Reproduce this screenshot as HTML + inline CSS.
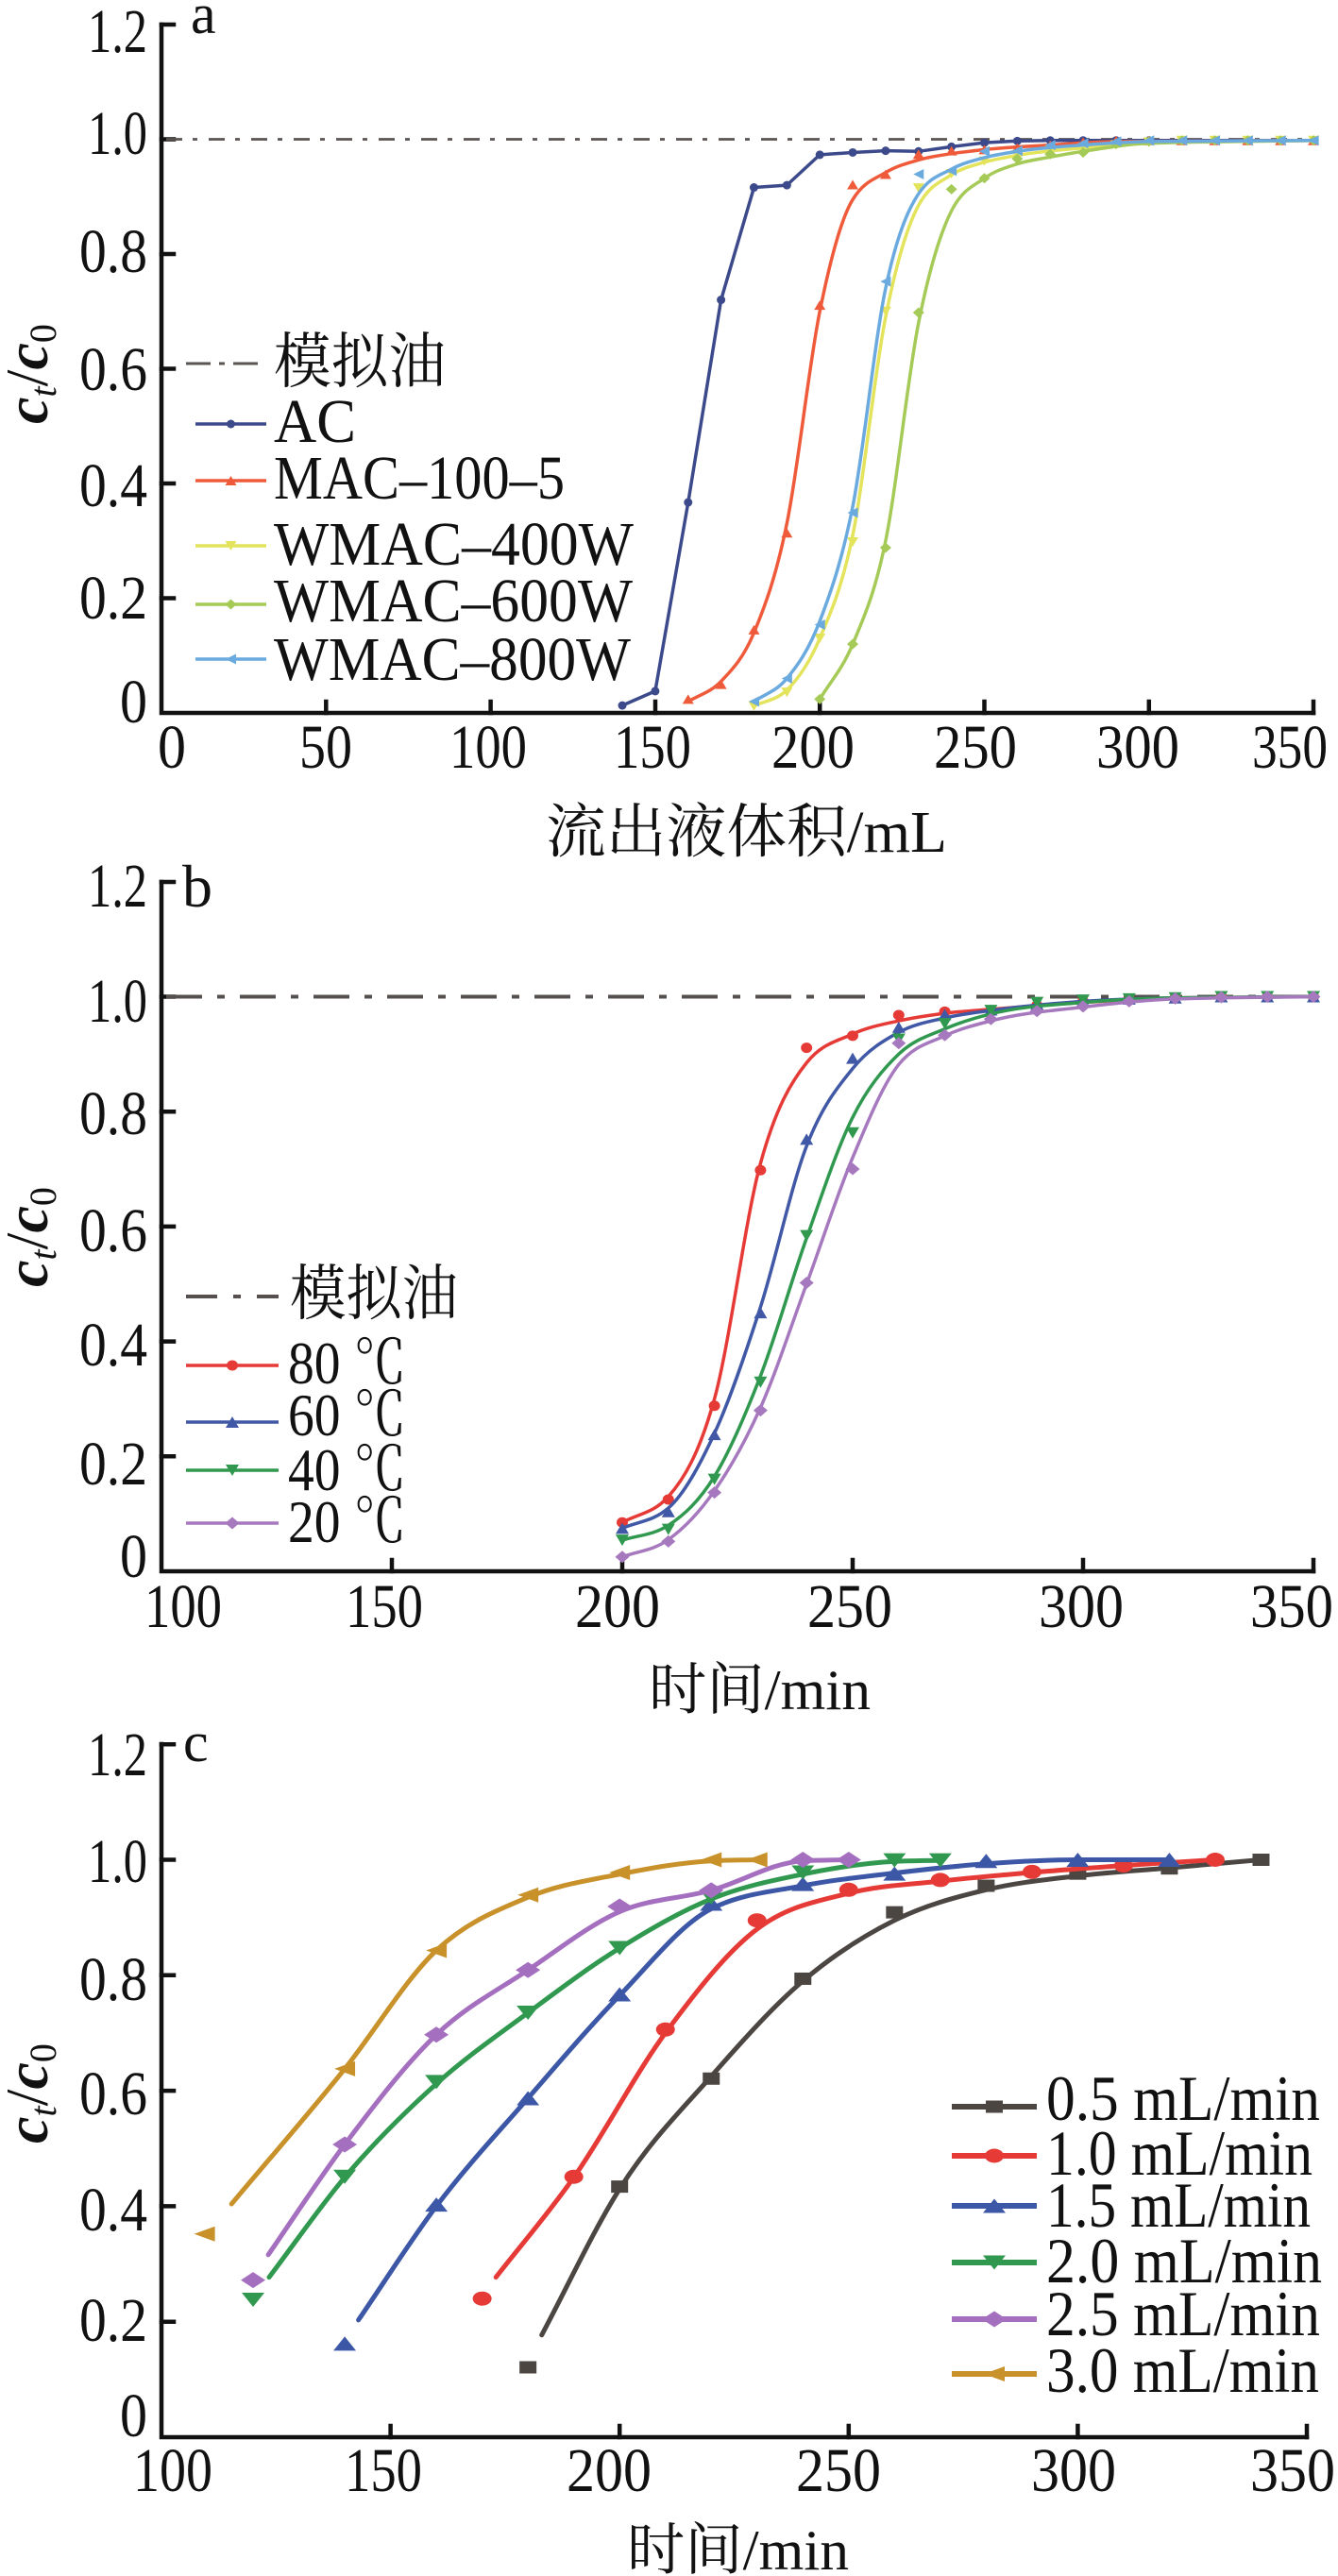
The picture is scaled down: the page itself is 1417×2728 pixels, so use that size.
<!DOCTYPE html>
<html>
<head>
<meta charset="utf-8">
<style>
html,body{margin:0;padding:0;background:#fff;}
svg{display:block;}
text{font-family:"Liberation Serif","Noto Serif CJK SC",serif;fill:#111;}
.cjk{font-family:"Liberation Serif","Noto Serif CJK SC",serif;}
</style>
</head>
<body>
<svg id="chart" xmlns="http://www.w3.org/2000/svg" width="1417" height="2728" viewBox="0 0 1417 2728">
<rect x="0" y="0" width="1417" height="2728" fill="#fff"/>

<!-- ================= PANEL A ================= -->
<g stroke="#111" stroke-width="4.5" fill="none" stroke-linecap="square">
  <path d="M171 26 V755 H1391"/>
  <path d="M171 26H184 M171 147.5H184 M171 269H184 M171 390.5H184 M171 512H184 M171 633.5H184"/>
  <path d="M345.3 755V743 M519.6 755V743 M694 755V743 M868.2 755V743 M1042.5 755V743 M1216.8 755V743 M1391 755V743"/>
</g>
<line x1="176" y1="147.5" x2="1391" y2="147.5" stroke="#5a5452" stroke-width="2.8" stroke-dasharray="17 11 5 12"/>
<g font-size="66" text-anchor="end">
  <text x="156" y="55" textLength="63" lengthAdjust="spacingAndGlyphs">1.2</text>
  <text x="156" y="163" textLength="63" lengthAdjust="spacingAndGlyphs">1.0</text>
  <text x="156" y="288" textLength="72" lengthAdjust="spacingAndGlyphs">0.8</text>
  <text x="156" y="413" textLength="72" lengthAdjust="spacingAndGlyphs">0.6</text>
  <text x="156" y="536" textLength="72" lengthAdjust="spacingAndGlyphs">0.4</text>
  <text x="156" y="655" textLength="72" lengthAdjust="spacingAndGlyphs">0.2</text>
  <text x="156" y="765" textLength="29" lengthAdjust="spacingAndGlyphs">0</text>
</g>
<g font-size="66" text-anchor="middle">
  <text x="182" y="813" textLength="30" lengthAdjust="spacingAndGlyphs">0</text>
  <text x="345" y="813" textLength="56" lengthAdjust="spacingAndGlyphs">50</text>
  <text x="517" y="813" textLength="82" lengthAdjust="spacingAndGlyphs">100</text>
  <text x="691" y="813" textLength="82" lengthAdjust="spacingAndGlyphs">150</text>
  <text x="861" y="813" textLength="88" lengthAdjust="spacingAndGlyphs">200</text>
  <text x="1033" y="813" textLength="88" lengthAdjust="spacingAndGlyphs">250</text>
  <text x="1205" y="813" textLength="88" lengthAdjust="spacingAndGlyphs">300</text>
  <text x="1366" y="813" textLength="80" lengthAdjust="spacingAndGlyphs">350</text>
</g>
<text class="cjk" x="578" y="902" font-size="62" textLength="425" lengthAdjust="spacingAndGlyphs">流出液体积/mL</text>
<text x="202" y="35" font-size="60">a</text>
<text transform="translate(50,396) rotate(-90)" font-size="64" text-anchor="middle"><tspan font-style="italic" font-weight="bold">c</tspan><tspan font-style="italic" font-size="40" dy="9">t</tspan><tspan dy="-9">/</tspan><tspan font-style="italic" font-weight="bold">c</tspan><tspan font-size="40" dy="9">0</tspan></text>
<!-- legend a -->
<line x1="197" y1="385" x2="277" y2="385" stroke="#5a5452" stroke-width="3" stroke-dasharray="26 9 6 9"/>
<text class="cjk" x="290" y="405" font-size="64" textLength="182" lengthAdjust="spacingAndGlyphs">模拟油</text>
<g font-size="66">
  <text x="290" y="468" textLength="87" lengthAdjust="spacingAndGlyphs">AC</text>
  <text x="290" y="528" textLength="308" lengthAdjust="spacingAndGlyphs">MAC–100–5</text>
  <text x="290" y="598" textLength="381" lengthAdjust="spacingAndGlyphs">WMAC–400W</text>
  <text x="290" y="658" textLength="380" lengthAdjust="spacingAndGlyphs">WMAC–600W</text>
  <text x="290" y="720" textLength="378" lengthAdjust="spacingAndGlyphs">WMAC–800W</text>
</g>

<!-- ================= PANEL B ================= -->
<g stroke="#111" stroke-width="4.5" fill="none" stroke-linecap="square">
  <path d="M171 934 V1664 H1391"/>
  <path d="M171 934H184 M171 1055.5H184 M171 1177.2H184 M171 1298.9H184 M171 1420.6H184 M171 1542.3H184"/>
  <path d="M415 1664V1652 M659 1664V1652 M903 1664V1652 M1147 1664V1652 M1391 1664V1652"/>
</g>
<line x1="176" y1="1055.5" x2="1391" y2="1055.5" stroke="#55504d" stroke-width="4" stroke-dasharray="38 16 8 16"/>
<g font-size="66" text-anchor="end">
  <text x="156" y="960" textLength="63" lengthAdjust="spacingAndGlyphs">1.2</text>
  <text x="156" y="1082" textLength="63" lengthAdjust="spacingAndGlyphs">1.0</text>
  <text x="156" y="1201" textLength="72" lengthAdjust="spacingAndGlyphs">0.8</text>
  <text x="156" y="1325" textLength="72" lengthAdjust="spacingAndGlyphs">0.6</text>
  <text x="156" y="1446" textLength="72" lengthAdjust="spacingAndGlyphs">0.4</text>
  <text x="156" y="1572" textLength="72" lengthAdjust="spacingAndGlyphs">0.2</text>
  <text x="156" y="1670" textLength="29" lengthAdjust="spacingAndGlyphs">0</text>
</g>
<g font-size="66" text-anchor="middle">
  <text x="194" y="1723" textLength="82" lengthAdjust="spacingAndGlyphs">100</text>
  <text x="407" y="1723" textLength="82" lengthAdjust="spacingAndGlyphs">150</text>
  <text x="654" y="1723" textLength="90" lengthAdjust="spacingAndGlyphs">200</text>
  <text x="900" y="1723" textLength="90" lengthAdjust="spacingAndGlyphs">250</text>
  <text x="1145" y="1723" textLength="90" lengthAdjust="spacingAndGlyphs">300</text>
  <text x="1368" y="1723" textLength="88" lengthAdjust="spacingAndGlyphs">350</text>
</g>
<text class="cjk" x="687" y="1810" font-size="60" textLength="235" lengthAdjust="spacingAndGlyphs">时间/min</text>
<text x="193" y="960" font-size="64">b</text>
<text transform="translate(50,1310) rotate(-90)" font-size="64" text-anchor="middle"><tspan font-style="italic" font-weight="bold">c</tspan><tspan font-style="italic" font-size="40" dy="9">t</tspan><tspan dy="-9">/</tspan><tspan font-style="italic" font-weight="bold">c</tspan><tspan font-size="40" dy="9">0</tspan></text>
<!-- legend b -->
<line x1="197" y1="1373" x2="295" y2="1373" stroke="#55504d" stroke-width="4" stroke-dasharray="33 17 8 17"/>
<text class="cjk" x="307" y="1392" font-size="64" textLength="178" lengthAdjust="spacingAndGlyphs">模拟油</text>
<g font-size="64">
  <text x="305" y="1465" textLength="125" lengthAdjust="spacingAndGlyphs">80 ℃</text>
  <text x="305" y="1520" textLength="125" lengthAdjust="spacingAndGlyphs">60 ℃</text>
  <text x="305" y="1578" textLength="125" lengthAdjust="spacingAndGlyphs">40 ℃</text>
  <text x="305" y="1633" textLength="125" lengthAdjust="spacingAndGlyphs">20 ℃</text>
</g>

<!-- ================= PANEL C ================= -->
<g stroke="#111" stroke-width="4.5" fill="none" stroke-linecap="square">
  <path d="M171 1847 V2581 H1384"/>
  <path d="M171 1847.2H184 M171 1969.5H184 M171 2091.8H184 M171 2214.1H184 M171 2336.4H184 M171 2458.7H184"/>
  <path d="M413.6 2581V2569 M656.2 2581V2569 M898.8 2581V2569 M1141.4 2581V2569 M1384 2581V2569"/>
</g>
<g font-size="66" text-anchor="end">
  <text x="156" y="1880" textLength="63" lengthAdjust="spacingAndGlyphs">1.2</text>
  <text x="156" y="1993" textLength="63" lengthAdjust="spacingAndGlyphs">1.0</text>
  <text x="156" y="2118" textLength="72" lengthAdjust="spacingAndGlyphs">0.8</text>
  <text x="156" y="2239" textLength="72" lengthAdjust="spacingAndGlyphs">0.6</text>
  <text x="156" y="2362" textLength="72" lengthAdjust="spacingAndGlyphs">0.4</text>
  <text x="156" y="2479" textLength="72" lengthAdjust="spacingAndGlyphs">0.2</text>
  <text x="156" y="2580" textLength="29" lengthAdjust="spacingAndGlyphs">0</text>
</g>
<g font-size="66" text-anchor="middle">
  <text x="183" y="2638" textLength="84" lengthAdjust="spacingAndGlyphs">100</text>
  <text x="406" y="2638" textLength="82" lengthAdjust="spacingAndGlyphs">150</text>
  <text x="645" y="2638" textLength="90" lengthAdjust="spacingAndGlyphs">200</text>
  <text x="888" y="2638" textLength="90" lengthAdjust="spacingAndGlyphs">250</text>
  <text x="1137" y="2638" textLength="90" lengthAdjust="spacingAndGlyphs">300</text>
  <text x="1369" y="2638" textLength="90" lengthAdjust="spacingAndGlyphs">350</text>
</g>
<text class="cjk" x="664" y="2721" font-size="60" textLength="235" lengthAdjust="spacingAndGlyphs">时间/min</text>
<text x="194" y="1865" font-size="60">c</text>
<text transform="translate(50,2217) rotate(-90)" font-size="64" text-anchor="middle"><tspan font-style="italic" font-weight="bold">c</tspan><tspan font-style="italic" font-size="40" dy="9">t</tspan><tspan dy="-9">/</tspan><tspan font-style="italic" font-weight="bold">c</tspan><tspan font-size="40" dy="9">0</tspan></text>
<!-- legend c text -->
<g font-size="68">
  <text x="1108" y="2245" textLength="290" lengthAdjust="spacingAndGlyphs">0.5 mL/min</text>
  <text x="1108" y="2303" textLength="282" lengthAdjust="spacingAndGlyphs">1.0 mL/min</text>
  <text x="1108" y="2358" textLength="280" lengthAdjust="spacingAndGlyphs">1.5 mL/min</text>
  <text x="1108" y="2417" textLength="292" lengthAdjust="spacingAndGlyphs">2.0 mL/min</text>
  <text x="1108" y="2473" textLength="290" lengthAdjust="spacingAndGlyphs">2.5 mL/min</text>
  <text x="1108" y="2533" textLength="289" lengthAdjust="spacingAndGlyphs">3.0 mL/min</text>
</g>
<g id="series"></g>
</svg>

<script>
(function(){
var NS='http://www.w3.org/2000/svg';
var root=document.getElementById('series');
function el(tag,attrs,parent){var e=document.createElementNS(NS,tag);for(var k in attrs)e.setAttribute(k,attrs[k]);(parent||root).appendChild(e);return e;}
function f(v){return v.toFixed(1);}
function linear(p){var d='M'+f(p[0][0])+','+f(p[0][1]);for(var i=1;i<p.length;i++)d+='L'+f(p[i][0])+','+f(p[i][1]);return d;}
function mono(p){
  var n=p.length;if(n<3)return linear(p);
  var h=[],s=[],t=[];
  for(var i=0;i<n-1;i++){h[i]=p[i+1][0]-p[i][0];s[i]=(p[i+1][1]-p[i][1])/h[i];}
  for(var i=1;i<n-1;i++){
    var s0=s[i-1],s1=s[i],h0=h[i-1],h1=h[i];
    var q=(s0*h1+s1*h0)/(h0+h1);
    var v=(Math.sign(s0)+Math.sign(s1))*Math.min(Math.abs(s0),Math.abs(s1),0.5*Math.abs(q));
    t[i]=isFinite(v)?v:0;
  }
  t[0]=s[0];t[n-1]=s[n-2];
  var d='M'+f(p[0][0])+','+f(p[0][1]);
  for(var i=0;i<n-1;i++){
    var dx=h[i]/3;
    d+='C'+f(p[i][0]+dx)+','+f(p[i][1]+t[i]*dx)+' '+f(p[i+1][0]-dx)+','+f(p[i+1][1]-t[i+1]*dx)+' '+f(p[i+1][0])+','+f(p[i+1][1]);
  }
  return d;
}
function marker(type,x,y,w,h,c,g){
  var a=w/2,b=h/2;
  if(type==='o')el('ellipse',{cx:x,cy:y,rx:a,ry:b,fill:c},g);
  else if(type==='s')el('rect',{x:x-a,y:y-b,width:w,height:h,fill:c},g);
  else if(type==='^')el('polygon',{points:x+','+(y-b)+' '+(x+a)+','+(y+b)+' '+(x-a)+','+(y+b),fill:c},g);
  else if(type==='v')el('polygon',{points:x+','+(y+b)+' '+(x+a)+','+(y-b)+' '+(x-a)+','+(y-b),fill:c},g);
  else if(type==='<')el('polygon',{points:(x-a)+','+y+' '+(x+a)+','+(y-b)+' '+(x+a)+','+(y+b),fill:c},g);
  else if(type==='d')el('polygon',{points:x+','+(y-b)+' '+(x+a)+','+y+' '+x+','+(y+b)+' '+(x-a)+','+y,fill:c},g);
}
var sz={
  a:{o:[9,9],'^':[12,10],'v':[12,10],'d':[12,11],'<':[11,11],s:[10,10]},
  b:{o:[12,11],'^':[14,12],'v':[14,12],'d':[15,13],'<':[13,13],s:[12,12]},
  c:{o:[20,15],'^':[24,15],'v':[24,15],'d':[26,17],'<':[22,16],s:[18,13]}
};
function draw(panel,fx,fy,curve,pts,color,type,lw,lin){
  var g=el('g',{});
  var cp=curve.map(function(q){return [fx(q[0]),fy(q[1])];});
  el('path',{d:lin?linear(cp):mono(cp),fill:'none',stroke:color,'stroke-width':lw,'stroke-linejoin':'round','stroke-linecap':'round'},g);
  var m=sz[panel][type];
  pts.forEach(function(q){marker(type,fx(q[0]),fy(q[1]),m[0],m[1],color,g);});
}
function legend(panel,x1,x2,y,color,type,lw){
  var g=el('g',{});
  el('line',{x1:x1,y1:y,x2:x2,y2:y,stroke:color,'stroke-width':lw},g);
  var m=sz[panel][type];
  marker(type,(x1+x2)/2,y,m[0],m[1],color,g);
}
/* ---------- Panel A ---------- */
var ax=function(x){return 171+x*3.486;}, ay=function(y){return 755-y*607.5;};
function tail(arr,from,v){for(var x=from;x<=350;x+=10)arr.push([x,v]);return arr;}
var AC=tail([[140,0.013],[150,0.038],[160,0.367],[170,0.72],[180,0.916],[190,0.92],[200,0.973],[210,0.977],[220,0.98],[230,0.979],[240,0.987],[250,0.994],[260,0.997]],270,0.998);
var MAC=tail([[160,0.024],[170,0.05],[180,0.145],[190,0.314],[200,0.711],[210,0.921],[220,0.939],[230,0.974],[240,0.98],[250,0.982],[260,0.985],[270,0.99],[280,0.995]],290,0.998);
var W4=tail([[180,0.012],[190,0.036],[200,0.13],[210,0.298],[220,0.70],[230,0.915],[240,0.94],[250,0.962],[260,0.973],[270,0.98],[280,0.985],[290,0.99],[300,0.995]],310,0.998);
var W6=tail([[200,0.024],[210,0.12],[220,0.288],[230,0.698],[240,0.913],[250,0.932],[260,0.966],[270,0.974],[280,0.977],[290,0.992],[300,0.996]],310,0.998);
var W8=tail([[180,0.02],[190,0.06],[200,0.154],[210,0.349],[220,0.752],[230,0.939],[240,0.945],[250,0.979],[260,0.98],[270,0.99],[280,0.993],[290,0.996]],300,0.998);
var MACc=[[160,0.02],[170,0.055],[180,0.14],[190,0.33],[200,0.70],[210,0.895],[220,0.942],[230,0.964],[240,0.975],[250,0.982],[270,0.99],[290,0.996],[350,0.998]];
var W4c=[[180,0.012],[190,0.04],[200,0.13],[210,0.31],[220,0.69],[230,0.885],[240,0.938],[250,0.96],[260,0.972],[280,0.985],[300,0.994],[350,0.998]];
var W6c=[[200,0.024],[210,0.12],[220,0.30],[230,0.68],[240,0.875],[250,0.932],[260,0.957],[270,0.969],[280,0.979],[300,0.993],[350,0.998]];
var W8c=[[180,0.02],[190,0.06],[200,0.16],[210,0.36],[220,0.74],[230,0.905],[240,0.948],[250,0.968],[260,0.979],[280,0.99],[300,0.996],[350,0.998]];
draw('a',ax,ay,AC,AC,'#3C4A8B','o',3.5,true);
draw('a',ax,ay,MACc,MAC,'#EF5B3A','^',3.5);
draw('a',ax,ay,W4c,W4,'#E4E35C','v',3.5);
draw('a',ax,ay,W6c,W6,'#A5CA57','d',3.5);
draw('a',ax,ay,W8c,W8,'#6AAADE','<',3.5);
legend('a',207,282,449,'#3C4A8B','o',3.5);
legend('a',207,282,509,'#EF5B3A','^',3.5);
legend('a',207,282,578,'#E4E35C','v',3.5);
legend('a',207,282,640,'#A5CA57','d',3.5);
legend('a',207,282,698,'#6AAADE','<',3.5);
/* ---------- Panel B ---------- */
var bx=function(x){return 171+(x-100)*4.88;}, by=function(y){return 1664-y*608.5;};
var T80=[[200,0.085],[210,0.125],[220,0.288],[230,0.698],[240,0.911],[250,0.932],[260,0.968],[270,0.974],[280,0.976],[290,0.985],[300,0.992],[310,0.996],[320,0.998],[330,1],[340,1],[350,1]];
var T60=[[200,0.075],[210,0.104],[220,0.238],[230,0.45],[240,0.752],[250,0.893],[260,0.947],[270,0.969],[280,0.977],[290,0.987],[300,0.993],[310,0.996],[320,0.998],[330,1],[340,1],[350,1]];
var T40=[[200,0.054],[210,0.073],[220,0.16],[230,0.329],[240,0.584],[250,0.763],[260,0.926],[270,0.953],[280,0.976],[290,0.99],[300,0.994],[310,0.996],[320,0.998],[330,1],[340,1],[350,1]];
var T20=[[200,0.025],[210,0.052],[220,0.137],[230,0.28],[240,0.502],[250,0.70],[260,0.919],[270,0.933],[280,0.961],[290,0.975],[300,0.983],[310,0.992],[320,0.997],[330,0.999],[340,1],[350,1]];
var T80c=[[200,0.085],[210,0.13],[220,0.30],[230,0.71],[240,0.885],[250,0.935],[260,0.958],[270,0.971],[280,0.978],[300,0.99],[320,0.998],[350,1]];
var T60c=[[200,0.075],[210,0.11],[220,0.24],[230,0.46],[240,0.74],[250,0.875],[260,0.938],[270,0.963],[280,0.976],[300,0.992],[320,0.998],[350,1]];
var T40c=[[200,0.054],[210,0.08],[220,0.165],[230,0.34],[240,0.58],[250,0.79],[260,0.9],[270,0.944],[280,0.97],[300,0.99],[320,0.998],[350,1]];
var T20c=[[200,0.025],[210,0.055],[220,0.14],[230,0.285],[240,0.50],[250,0.72],[260,0.882],[270,0.932],[280,0.958],[300,0.982],[320,0.996],[350,1]];
draw('b',bx,by,T80c,T80,'#E63A36','o',3.5);
draw('b',bx,by,T60c,T60,'#4058A6','^',3.5);
draw('b',bx,by,T40c,T40,'#30994F','v',3.5);
draw('b',bx,by,T20c,T20,'#A679BF','d',3.5);
legend('b',197,295,1446,'#E63A36','o',3.5);
legend('b',197,295,1506,'#4058A6','^',3.5);
legend('b',197,295,1557,'#30994F','v',3.5);
legend('b',197,295,1613,'#A679BF','d',3.5);
/* ---------- Panel C ---------- */
var cx=function(x){return 171+(x-100)*4.852;}, cy=function(y){return 2581-y*611.5;};
draw('c',cx,cy,
 [[183,0.177],[200,0.43],[220,0.625],[240,0.79],[260,0.895],[280,0.948],[300,0.972],[320,0.986],[340,1.0]],
 [[180,0.121],[200,0.434],[220,0.621],[240,0.794],[260,0.909],[280,0.955],[300,0.976],[320,0.985],[340,1.0]],
 '#4C4643','s',5);
draw('c',cx,cy,
 [[173,0.277],[190,0.45],[210,0.70],[230,0.88],[250,0.942],[270,0.963],[290,0.978],[310,0.99],[330,1.0]],
 [[170,0.24],[190,0.451],[210,0.706],[230,0.895],[250,0.948],[270,0.965],[290,0.979],[310,0.99],[330,1.0]],
 '#E63A36','o',5);
draw('c',cx,cy,
 [[143,0.203],[160,0.40],[180,0.587],[200,0.765],[220,0.915],[240,0.955],[260,0.977],[280,0.993],[300,1.0],[320,1.0]],
 [[140,0.162],[160,0.403],[180,0.587],[200,0.767],[220,0.924],[240,0.958],[260,0.976],[280,0.998],[300,1.0],[320,1.0]],
 '#3D57A7','^',5);
draw('c',cx,cy,
 [[123.5,0.277],[140,0.45],[160,0.612],[180,0.735],[200,0.847],[220,0.932],[240,0.975],[260,0.997],[270,0.999]],
 [[120,0.238],[140,0.451],[160,0.615],[180,0.735],[200,0.847],[220,0.935],[240,0.978],[260,0.999],[270,0.999]],
 '#30994F','v',5);
draw('c',cx,cy,
 [[123.3,0.316],[140,0.507],[160,0.697],[180,0.809],[200,0.91],[220,0.947],[240,0.998],[250,1.0]],
 [[120,0.272],[140,0.507],[160,0.697],[180,0.809],[200,0.919],[220,0.947],[240,1.0],[250,1.0]],
 '#A56FC0','d',5);
draw('c',cx,cy,
 [[115.3,0.404],[140,0.638],[160,0.843],[180,0.935],[200,0.975],[220,0.998],[230,1.0]],
 [[109.4,0.352],[140,0.638],[160,0.843],[180,0.939],[200,0.978],[220,1.0],[230,1.0]],
 '#C8912A','<',5);
legend('c',1008,1098,2231,'#4C4643','s',6);
legend('c',1008,1098,2283,'#E63A36','o',6);
legend('c',1008,1098,2336,'#3D57A7','^',6);
legend('c',1008,1098,2396,'#30994F','v',6);
legend('c',1008,1098,2456,'#A56FC0','d',6);
legend('c',1008,1098,2514,'#C8912A','<',6);
})();
</script>
</body>
</html>
